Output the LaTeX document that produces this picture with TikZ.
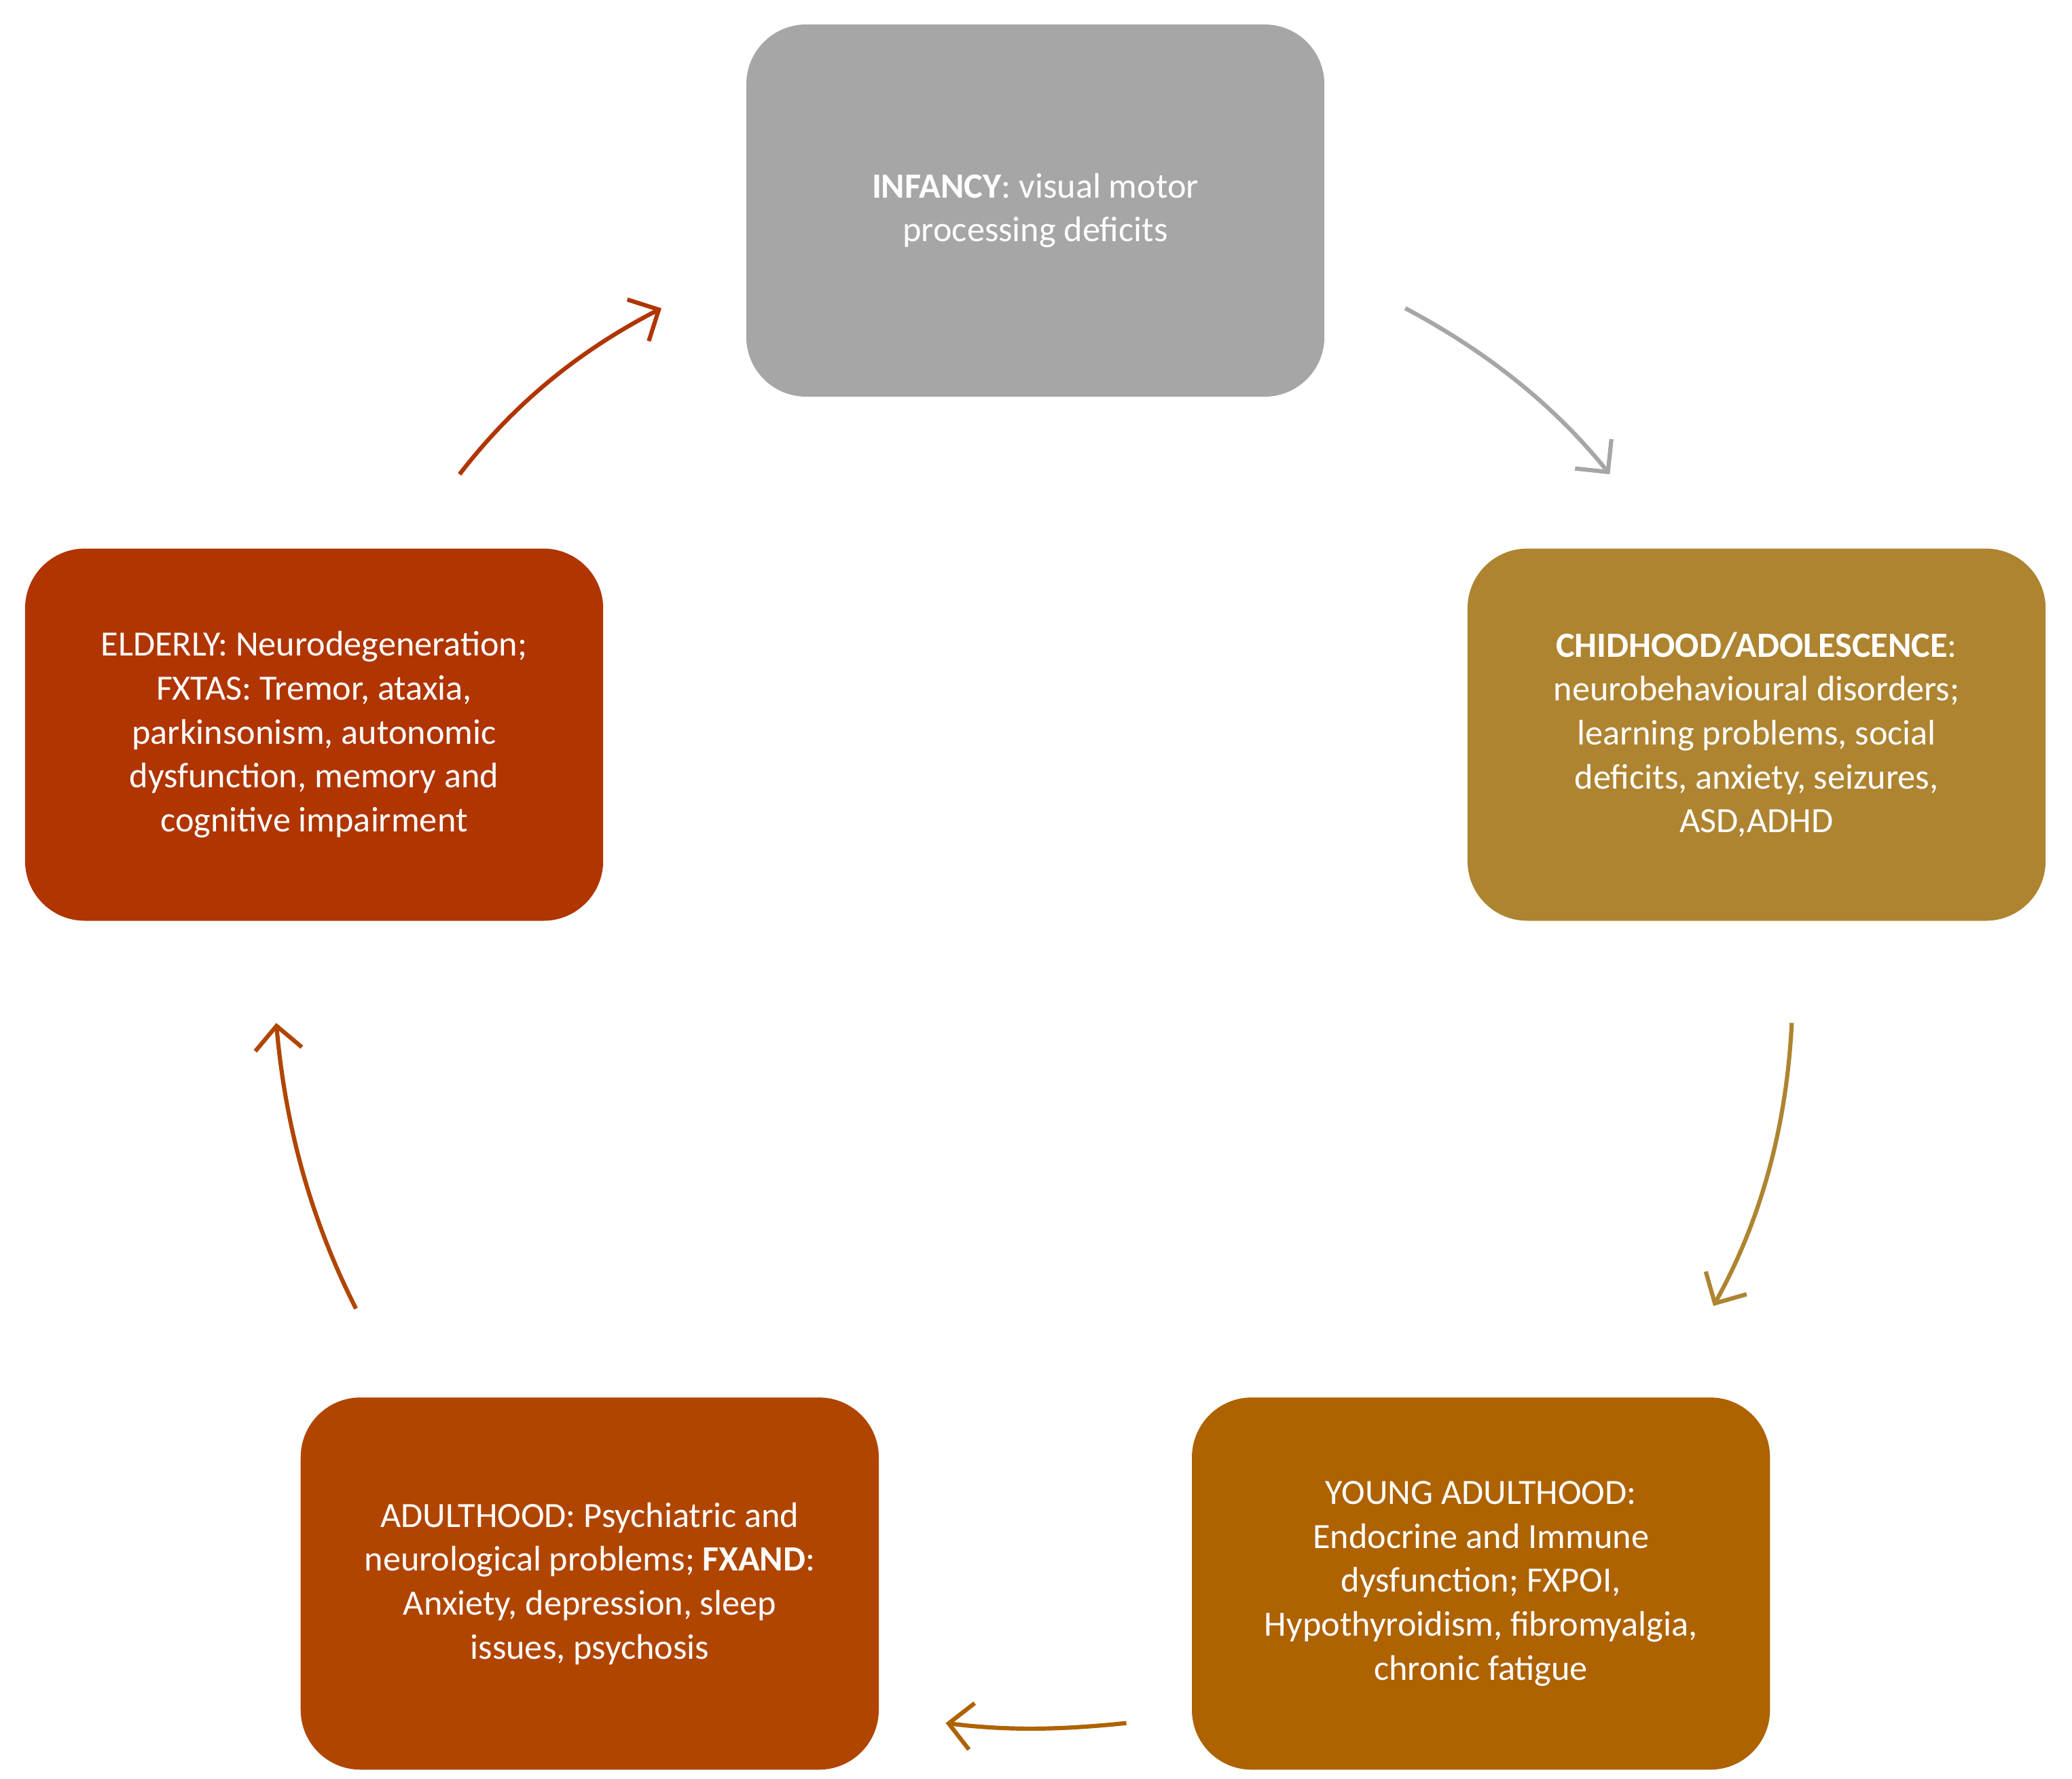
\documentclass[tikz,border=0pt]{standalone}
\usepackage{fontspec}
\setmainfont{Carlito}
\usetikzlibrary{arrows.meta}
\definecolor{cgray}{HTML}{A6A6A6}
\definecolor{cchild}{HTML}{AE8431}
\definecolor{cyoung}{HTML}{AE6200}
\definecolor{cadult}{HTML}{B04500}
\definecolor{celder}{HTML}{B03500}
\begin{document}
\begin{tikzpicture}[x=0.01cm,y=-0.01cm,
  box/.style={rounded corners=0.45cm,minimum width=4.35cm,minimum height=2.8cm,
    text=white,align=center,font=\fontsize{7.6pt}{9.4pt}\selectfont,inner sep=0pt},
  arr/.style={line width=0.9pt,-{Straight Barb[length=5pt,width=10pt]}}]
\useasboundingbox (0,0) rectangle (1560,1339);
\node[box,fill=cgray] (inf) at (779.5,158.5) {\textbf{INFANCY}: visual motor\\processing deficits};
\node[box,fill=cchild] (chi) at (1322.5,553) {\textbf{CHIDHOOD/ADOLESCENCE}:\\neurobehavioural disorders;\\learning problems, social\\deficits, anxiety, seizures,\\ASD,ADHD};
\node[box,fill=cyoung] (you) at (1115,1192) {YOUNG ADULTHOOD:\\Endocrine and Immune\\dysfunction; FXPOI,\\Hypothyroidism, fibromyalgia,\\chronic fatigue};
\node[box,fill=cadult] (adu) at (444,1192) {ADULTHOOD: Psychiatric and\\neurological problems; \textbf{FXAND}:\\Anxiety, depression, sleep\\issues, psychosis};
\node[box,fill=celder] (eld) at (236.5,553) {ELDERLY: Neurodegeneration;\\FXTAS: Tremor, ataxia,\\parkinsonism, autonomic\\dysfunction, memory and\\cognitive impairment};
\coordinate (a1) at (1058,232); \coordinate (b1) at (1212,357);
\coordinate (a2) at (1349,770); \coordinate (b2) at (1290,983);
\coordinate (a3) at (848,1297); \coordinate (b3) at (712,1297);
\coordinate (a4) at (268,985); \coordinate (b4) at (208,770);
\coordinate (a5) at (346,357); \coordinate (b5) at (498,232);
\draw[arr,cgray] (a1) .. controls (1120,265) and (1170,305) .. (b1);
\draw[arr,cchild] (a2) .. controls (1345,850) and (1325,920) .. (b2);
\draw[arr,cyoung] (a3) .. controls (800,1302) and (760,1303) .. (b3);
\draw[arr,cadult] (a4) .. controls (235,920) and (215,850) .. (b4);
\draw[arr,celder] (a5) .. controls (390,300) and (440,262) .. (b5);
\end{tikzpicture}
\end{document}
